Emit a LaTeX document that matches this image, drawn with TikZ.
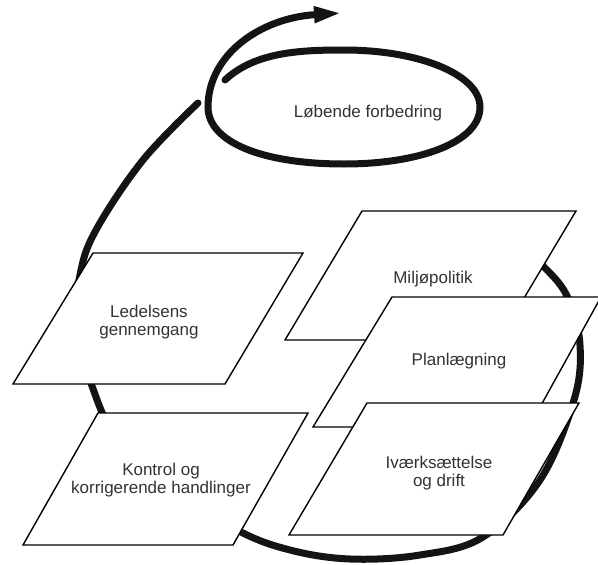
\documentclass[tikz,border=0pt]{standalone}
\usepackage{fontspec}
\setmainfont{Liberation Sans}
\usetikzlibrary{arrows.meta}
\begin{document}
\begin{tikzpicture}[x=1pt,y=-1pt,
  panel/.style={draw=black, fill=white, line width=1.4pt, line join=miter},
  caption/.style={font=\fontsize{17}{18.5}\selectfont, align=center, text=black!80, inner sep=0pt},
  loopline/.style={line width=7pt, line cap=round, draw=black!92},
]
\useasboundingbox (0,0) rectangle (598,565);
\fill[white] (0,0) rectangle (598,565);

% large cycle running clockwise behind the panels
\draw[loopline] plot[smooth, tension=0.6] coordinates {
  (512,242) (545,268) (568,298) (580,345) (574,400) (540,480)
  (483,537) (420,555) (350,559) (290,550) (237,530) (165,485)
  (115,435) (92,386) (76,330) (80,275) (96,230) (143,160) (198,103)};

% improvement spiral with its outgoing arrow
\draw[loopline, -{Triangle[length=28pt,width=15pt]}]
  (225,80) .. controls (255,52) and (300,50) .. (344,50)
  .. controls (420,50) and (480,75) .. (480,107)
  .. controls (480,142) and (420,164) .. (344,164)
  .. controls (262,164) and (208,142) .. (208,107)
  .. controls (208,55) and (260,18) .. (342,13);
\node[caption] (forbedring) at (368,113) {Løbende forbedring};

% the five stages
\draw[panel] (93,253) -- (303,253) -- (225,384) -- (13,384) -- cycle;
\node[caption] (ledelse) at (149,322) {Ledelsens\\gennemgang};

\draw[panel] (98,413) -- (308,413) -- (233,545) -- (23,545) -- cycle;
\node[caption] (kontrol) at (161,480) {Kontrol og\\korrigerende handlinger};

\draw[panel] (362,211) -- (576,211) -- (499,340) -- (285,340) -- cycle;
\node[caption] (politik) at (433,279) {Miljøpolitik};

\draw[panel] (392,297) -- (601,297) -- (529,427) -- (313,427) -- cycle;
\node[caption] (plan) at (459,361) {Planlægning};

\draw[panel] (367,403) -- (579,403) -- (503,535) -- (289,535) -- cycle;
\node[caption] (drift) at (439,473) {Iværksættelse\\og drift};
\end{tikzpicture}
\end{document}
